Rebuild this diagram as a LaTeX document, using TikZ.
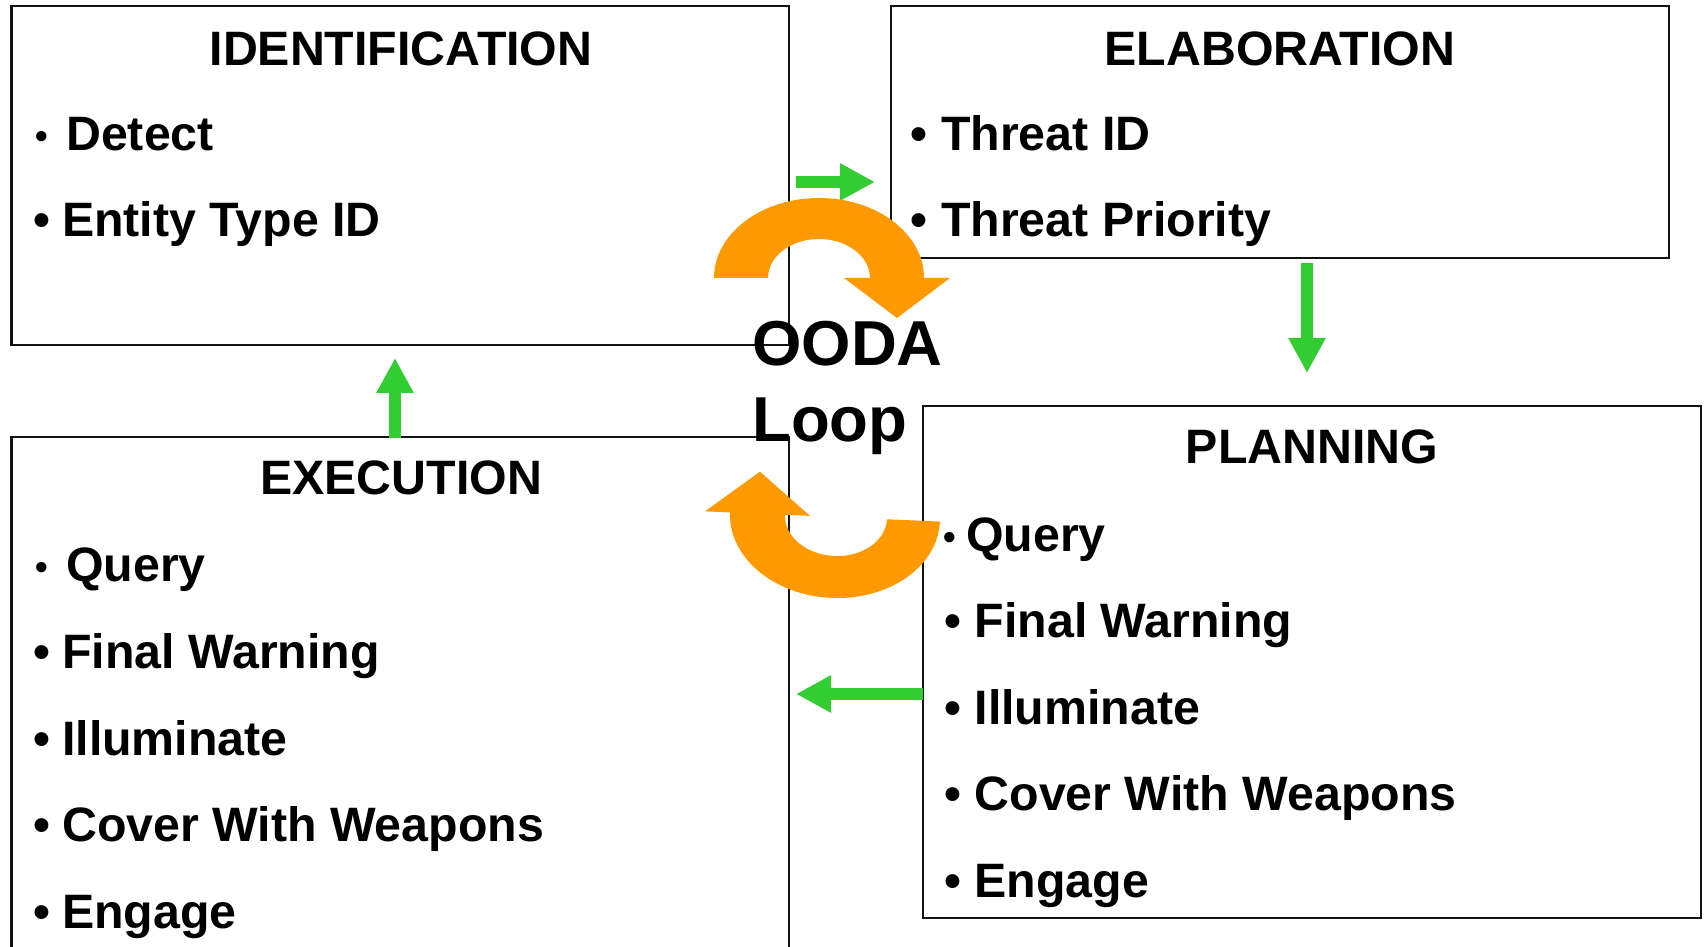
\documentclass[tikz,border=0pt]{standalone}
\usepackage{fontspec}
\setmainfont{Liberation Sans}
\usetikzlibrary{arrows.meta}

\definecolor{flowgreen}{RGB}{51,204,51}
\definecolor{looporange}{RGB}{255,153,0}
\definecolor{frameink}{RGB}{17,17,17}

\newcommand\itemfont{\fontsize{48.3}{58}\selectfont\bfseries}
\newcommand\oodafont{\fontsize{63.5}{76}\selectfont\bfseries}
% bullet hung to the left of the item text, #1 = gap before the text
\newcommand\bul[1]{\llap{•\hspace{#1}}}
\newcommand\smallbul[1]{\llap{\raisebox{2.5pt}{\fontsize{36}{36}\selectfont •}\hspace{#1}}}

\begin{document}
\begin{tikzpicture}[x=1pt,y=1pt,
  box/.style={draw=frameink, line width=2.8pt, inner sep=0pt, fill=none},
  item/.style={anchor=base west, inner sep=0pt, font=\itemfont},
  heading/.style={anchor=base, inner sep=0pt, font=\itemfont},
  flow/.style={draw=flowgreen, line width=12pt, line cap=butt,
    -{Triangle[length=35pt,width=35pt]}},
  turn/.style={fill=looporange, draw=none}]

\useasboundingbox (0,0) rectangle (1706,947);
\clip (0,0) rectangle (1706,947);

% the four stage boxes
\node[box, minimum width=777.5pt, minimum height=339pt] (ident) at (400.25,771.5) {};
\node[box, minimum width=778pt, minimum height=252pt] (elab) at (1280,815) {};
\node[box, minimum width=778pt, minimum height=512pt] (plan) at (1312,285) {};
\node[box, minimum width=777.5pt, minimum height=540pt] (exec) at (400.25,240) {};

% IDENTIFICATION
\node[heading] (identT) at (401,881) {IDENTIFICATION};
\node[item] (identA) at (66,796) {\smallbul{18pt}Detect};
\node[item] (identB) at (62,710) {\bul{12pt}Entity Type ID};

% ELABORATION
\node[heading] (elabT) at (1280,881) {ELABORATION};
\node[item] (elabA) at (941,796) {\bul{13.6pt}Threat ID};
\node[item] (elabB) at (941,710) {\bul{13.6pt}Threat Priority};

% PLANNING
\node[heading] (planT) at (1312,483) {PLANNING};
\node[item] (planA) at (966,395) {\smallbul{10pt}Query};
\node[item] (planB) at (974.5,309) {\bul{13pt}Final Warning};
\node[item] (planC) at (974.5,222) {\bul{13pt}Illuminate};
\node[item] (planD) at (974.5,136) {\bul{13pt}Cover With Weapons};
\node[item] (planE) at (974.5,49) {\bul{13pt}Engage};

% EXECUTION
\node[heading] (execT) at (401,452) {EXECUTION};
\node[item] (execA) at (66,365) {\smallbul{18pt}Query};
\node[item] (execB) at (62,278) {\bul{12pt}Final Warning};
\node[item] (execC) at (62,191) {\bul{12pt}Illuminate};
\node[item] (execD) at (62,105) {\bul{12pt}Cover With Weapons};
\node[item] (execE) at (62,18) {\bul{12pt}Engage};

% green flow arrows between the stages
\coordinate (ieS) at (796,765);  \coordinate (ieE) at (875,765);
\coordinate (epS) at (1307,684); \coordinate (epE) at (1307,574);
\coordinate (pxS) at (923,253);  \coordinate (pxE) at (796,253);
\coordinate (xiS) at (395,509);  \coordinate (xiE) at (395,589);
\draw[flow] (ieS) -- (ieE);
\draw[flow] (epS) -- (epE);
\draw[flow] (pxS) -- (pxE);
\draw[flow] (xiS) -- (xiE);

% orange loop arrows in the middle
\fill[turn] (714,669) arc[start angle=180, end angle=0, x radius=105, y radius=80]
  -- (950,669) -- (897,629) -- (844,669) -- (870,669)
  arc[start angle=0, end angle=180, x radius=51, y radius=39] -- cycle;
\begin{scope}[rotate around={-2.5:(835,430)}]
\fill[turn] (940,430) arc[start angle=0, end angle=-180, x radius=105, y radius=81]
  -- (705,430) -- (758,472) -- (810,430) -- (785,430)
  arc[start angle=180, end angle=360, x radius=51, y radius=39] -- cycle;
\end{scope}

% centre label
\node[anchor=base west, inner sep=0pt, font=\oodafont] (ooda) at (752,581) {OODA};
\node[anchor=base west, inner sep=0pt, font=\oodafont] (loop) at (752,505) {Loop};
\end{tikzpicture}
\end{document}
